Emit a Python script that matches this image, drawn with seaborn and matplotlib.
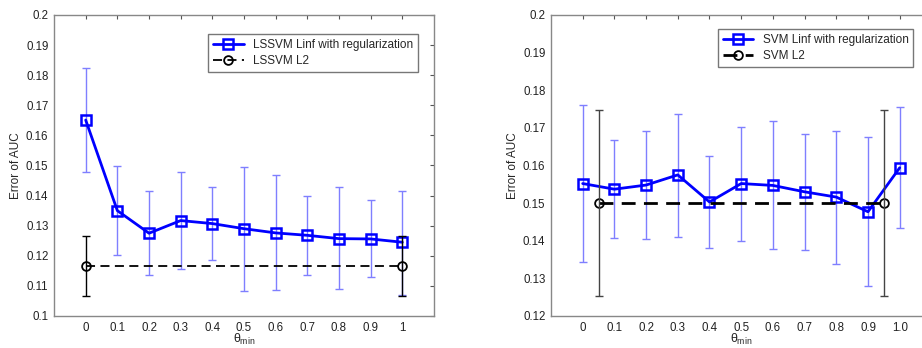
import matplotlib
matplotlib.use('Agg')
import matplotlib.pyplot as plt
import seaborn as sns
import numpy as np

# theta_min values
theta = [0, 0.1, 0.2, 0.3, 0.4, 0.5, 0.6, 0.7, 0.8, 0.9, 1.0]

# left panel: LSSVM
ls_linf = [0.1651, 0.1350, 0.1275, 0.1317, 0.1307, 0.1290, 0.1276, 0.1268, 0.1257, 0.1256, 0.1245]
ls_linf_hi = [0.1825, 0.1499, 0.1415, 0.1477, 0.1427, 0.1496, 0.1467, 0.1400, 0.1427, 0.1384, 0.1414]
ls_linf_lo = [0.1477, 0.1204, 0.1136, 0.1157, 0.1185, 0.1084, 0.1085, 0.1136, 0.1089, 0.1128, 0.1071]
ls_l2_x = [0, 1.0]
ls_l2 = [0.1166, 0.1166]
ls_l2_hi = [0.1266, 0.1266]
ls_l2_lo = [0.1068, 0.1068]

# right panel: SVM
svm_linf = [0.1552, 0.1537, 0.1548, 0.1575, 0.1503, 0.1552, 0.1547, 0.1530, 0.1516, 0.1477, 0.1594]
svm_linf_hi = [0.1762, 0.1667, 0.1692, 0.1738, 0.1626, 0.1703, 0.1717, 0.1685, 0.1693, 0.1675, 0.1755]
svm_linf_lo = [0.1343, 0.1406, 0.1405, 0.1411, 0.1381, 0.1399, 0.1379, 0.1376, 0.1339, 0.1281, 0.1433]
svm_l2_x = [0.05, 0.95]
svm_l2 = [0.1500, 0.1500]
svm_l2_hi = [0.1747, 0.1747]
svm_l2_lo = [0.1253, 0.1253]

left_xticklabels = ['0', '0.1', '0.2', '0.3', '0.4', '0.5', '0.6', '0.7', '0.8', '0.9', '1']
right_xticklabels = ['0', '0.1', '0.2', '0.3', '0.4', '0.5', '0.6', '0.7', '0.8', '0.9', '1.0']
left_yticks = [0.1, 0.11, 0.12, 0.13, 0.14, 0.15, 0.16, 0.17, 0.18, 0.19, 0.2]
left_yticklabels = ['0.1', '0.11', '0.12', '0.13', '0.14', '0.15', '0.16', '0.17', '0.18', '0.19', '0.2']
right_yticks = [0.12, 0.13, 0.14, 0.15, 0.16, 0.17, 0.18, 0.19, 0.2]
right_yticklabels = ['0.12', '0.13', '0.14', '0.15', '0.16', '0.17', '0.18', '0.19', '0.2']

sns.set_style('white')
plt.rcParams['font.family'] = ['Liberation Sans', 'DejaVu Sans']
plt.rcParams['mathtext.fontset'] = 'custom'
plt.rcParams['mathtext.rm'] = 'Liberation Sans'
plt.rcParams['mathtext.it'] = 'Liberation Sans'

fig = plt.figure(figsize=(9.22, 3.48), dpi=100)
ax1 = fig.add_axes([0.0586, 0.092, 0.4121, 0.8649])
ax2 = fig.add_axes([0.5976, 0.092, 0.4126, 0.8649])


def draw_panel(ax, y, hi, lo, l2x, l2y, l2hi, l2lo, label1, label2,
               l2_lw, l2_err_color, ylim, yticks, yticklabels, xticklabels, leg_anchor):
    y = np.array(y)
    yerr = [y - np.array(lo), np.array(hi) - y]
    ax.errorbar(theta, y, yerr=yerr, fmt='none', ecolor='#7f7fff',
                elinewidth=1.0, capsize=3, capthick=1.0, zorder=2)
    l2y_a = np.array(l2y)
    l2err = [l2y_a - np.array(l2lo), np.array(l2hi) - l2y_a]
    ax.errorbar(l2x, l2y, yerr=l2err, fmt='none', ecolor=l2_err_color,
                elinewidth=1.0, capsize=3, capthick=1.0, zorder=4)
    sns.lineplot(x=theta, y=y, ax=ax, color='#0000ff', lw=2, marker='s',
                 markersize=6.5, markerfacecolor='none', markeredgecolor='#0000ff',
                 markeredgewidth=1.8, label=label1, zorder=3)
    sns.lineplot(x=l2x, y=l2y, ax=ax, color='black', lw=l2_lw, marker='o',
                 markersize=6.3, markerfacecolor='none', markeredgecolor='black',
                 markeredgewidth=1.3, label=label2, zorder=3)
    ax.lines[-1].set_linestyle((0, (5, 3)))
    ax.set_xlim(-0.1, 1.1)
    ax.set_ylim(*ylim)
    ax.set_xticks(theta)
    ax.set_xticklabels(xticklabels)
    ax.set_yticks(yticks)
    ax.set_yticklabels(yticklabels)
    ax.tick_params(direction='in', top=True, right=True, length=3,
                   labelsize=8.3, color='#555555', labelcolor='#222222', pad=4)
    for sp in ax.spines.values():
        sp.set_color('#888888')
        sp.set_linewidth(1.0)
    ax.set_ylabel('Error of AUC', fontsize=8.5, labelpad=3)
    ax.set_xlabel(r'$\theta_{\mathrm{min}}$', fontsize=9, labelpad=-1)
    leg = ax.legend(loc='upper right', bbox_to_anchor=leg_anchor,
                    bbox_transform=ax.transAxes,
                    fontsize=8.5, frameon=True, fancybox=False,
                    edgecolor='#777777', framealpha=1, handlelength=2.6,
                    borderaxespad=0, borderpad=0.4, labelspacing=0.4)
    leg.get_frame().set_linewidth(1.0)


draw_panel(ax1, ls_linf, ls_linf_hi, ls_linf_lo, ls_l2_x, ls_l2, ls_l2_hi, ls_l2_lo,
           'LSSVM Linf with regularization', 'LSSVM L2', 1.3, 'black',
           (0.1, 0.2), left_yticks, left_yticklabels, left_xticklabels,
           (1 - 16 / 380, 1 - 19 / 301))
draw_panel(ax2, svm_linf, svm_linf_hi, svm_linf_lo, svm_l2_x, svm_l2, svm_l2_hi, svm_l2_lo,
           'SVM Linf with regularization', 'SVM L2', 2.0, '#444444',
           (0.12, 0.2), right_yticks, right_yticklabels, right_xticklabels,
           (1 - 18 / 380, 1 - 14 / 301))

fig.savefig('out.png', dpi=100)
plt.close(fig)
